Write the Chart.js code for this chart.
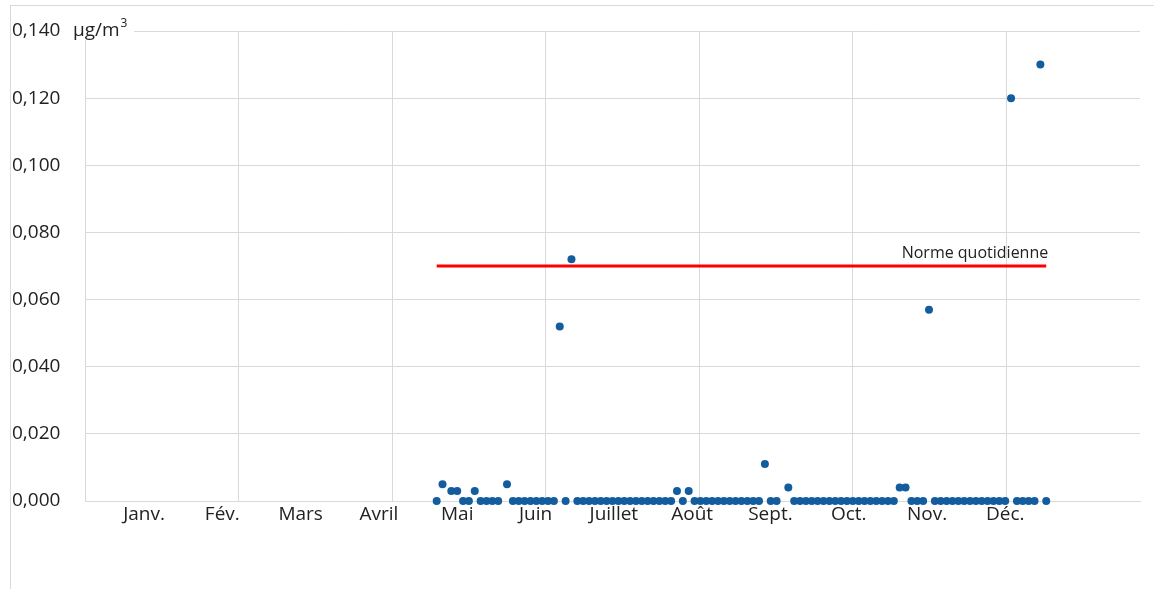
<!DOCTYPE html>
<html lang="fr">
<head>
<meta charset="utf-8">
<script src="https://cdn.jsdelivr.net/npm/chart.js@4/dist/chart.umd.min.js"></script>
<style>
    html, body { margin: 0; padding: 0; background: #fff; }
    #cadre {
        position: absolute; left: 10px; top: 5px; width: 1144px; height: 584px;
        border-top: 1px solid #d9d9d9; border-left: 1px solid #d9d9d9;
    }
    #zone { position: absolute; left: 0; top: 0; width: 1154px; height: 589px; }
</style>
</head>
<body>
<div id="cadre"></div>
<div id="zone"><canvas id="graphique"></canvas></div>
<script>
// Données
const mois = ['Janv.', 'Fév.', 'Mars', 'Avril', 'Mai', 'Juin', 'Juillet', 'Août', 'Sept.', 'Oct.', 'Nov.', 'Déc.'];

// jour de prélèvement (position sur l'axe) et concentration en µg/m3
const jours = [
    120, 122, 125, 127, 129, 131, 133, 135, 137, 139, 141, 144,
    146, 148, 150, 152, 154, 156, 158, 160,
    162, 164, 166, 168,
    170, 172, 174, 176, 178, 180, 182, 184, 186, 188, 190, 192, 194, 196, 198, 200,
    202, 204, 206,
    208, 210, 212, 214, 216, 218, 220, 222, 224, 226, 228, 230,
    232, 234, 236, 240,
    242, 244, 246, 248, 250, 252, 254, 256, 258, 260, 262, 264, 266, 268, 270, 272, 274, 276,
    278, 280, 282, 284, 286, 288,
    290, 292, 294, 296, 298, 300, 302, 304, 306, 308, 310, 312, 314,
    316, 318, 320, 322, 324, 326, 328
];
const valeurs = [
    0, 0.005, 0.003, 0.003, 0, 0, 0.003, 0, 0, 0, 0, 0.005,
    0, 0, 0, 0, 0, 0, 0, 0,
    0.052, 0, 0.072, 0,
    0, 0, 0, 0, 0, 0, 0, 0, 0, 0, 0, 0, 0, 0, 0, 0,
    0.003, 0, 0.003,
    0, 0, 0, 0, 0, 0, 0, 0, 0, 0, 0, 0,
    0.011, 0, 0, 0.004,
    0, 0, 0, 0, 0, 0, 0, 0, 0, 0, 0, 0, 0, 0, 0, 0, 0, 0,
    0.004, 0.004, 0, 0, 0, 0.057,
    0, 0, 0, 0, 0, 0, 0, 0, 0, 0, 0, 0, 0,
    0.120, 0, 0, 0, 0, 0.130, 0
];

const norme = 0.070;
const libelleNorme = 'Norme quotidienne';
const unite = 'µg/m';

const gris = '#d9d9d9';
const police = '"Open Sans", sans-serif';

// points du nuage
const points = jours.map((j, i) => ({ x: j, y: valeurs[i] }));
const ligneNorme = [
    { x: jours[0], y: norme },
    { x: jours[jours.length - 1], y: norme }
];

// unité en haut de l'axe + libellé de la norme
const textes = {
    id: 'textes',
    afterDraw(chart) {
        const ctx = chart.ctx;
        const y = chart.scales.y;
        const x = chart.scales.x;
        const yHaut = y.getPixelForValue(0.14);

        ctx.save();
        ctx.fillStyle = '#fff';
        ctx.fillRect(66, yHaut - 13, 68, 22);
        ctx.fillStyle = '#222';
        ctx.textBaseline = 'middle';
        ctx.textAlign = 'left';
        ctx.font = '19px ' + police;
        ctx.fillText(unite, 73, yHaut);
        const w = ctx.measureText(unite).width;
        ctx.font = '12px ' + police;
        ctx.fillText('3', 73 + w + 1, yHaut - 7);

        // libellé au bout de la ligne rouge
        ctx.font = '16px ' + police;
        ctx.textAlign = 'right';
        ctx.textBaseline = 'alphabetic';
        ctx.fillText(libelleNorme,
            x.getPixelForValue(jours[jours.length - 1]) + 2,
            y.getPixelForValue(norme) - 8);
        ctx.restore();
    }
};

const ctx = document.getElementById('graphique').getContext('2d');
new Chart(ctx, {
    type: 'scatter',
    data: {
        datasets: [
            {
                label: 'Concentration',
                data: points,
                backgroundColor: '#135c9e',
                borderWidth: 0,
                pointRadius: 4,
                pointHoverRadius: 4,
                clip: false,
                order: 1
            },
            {
                type: 'line',
                label: libelleNorme,
                data: ligneNorme,
                borderColor: '#ff0000',
                borderWidth: 3,
                pointRadius: 0,
                fill: false,
                order: 2
            }
        ]
    },
    options: {
        responsive: true,
        maintainAspectRatio: false,
        animation: false,
        events: [],
        layout: { padding: { top: 31, left: 12, right: 14, bottom: 58 } },
        plugins: {
            legend: { display: false },
            tooltip: { enabled: false }
        },
        scales: {
            x: {
                type: 'linear',
                min: 0,
                max: 360,
                afterBuildTicks: (scale) => {
                    // une grille verticale toutes les ~52,4 unités
                    const t = [];
                    for (let k = 0; k * 52.4 < 360; k++) t.push({ value: k * 52.4 });
                    scale.ticks = t;
                },
                afterFit: (scale) => { scale.height = 0; },
                ticks: { display: false },
                grid: { color: gris, drawTicks: false },
                border: { color: gris }
            },
            x2: {
                type: 'linear',
                position: 'bottom',
                min: -0.754,
                max: 12.72,
                afterBuildTicks: (scale) => {
                    scale.ticks = mois.map((m, i) => ({ value: i }));
                },
                afterFit: (scale) => { scale.height = 30; },
                ticks: {
                    color: '#222',
                    font: { family: police, size: 19 },
                    padding: 2,
                    maxRotation: 0,
                    autoSkip: false,
                    callback: (v) => mois[v]
                },
                grid: { display: false, drawTicks: false },
                border: { display: false }
            },
            y: {
                min: 0,
                max: 0.14,
                ticks: {
                    stepSize: 0.02,
                    crossAlign: 'far',
                    padding: 0,
                    color: '#222',
                    font: { family: police, size: 19 },
                    callback: (v) => v.toFixed(3).replace('.', ',')
                },
                afterFit: (scale) => { scale.width = 73; },
                grid: { color: gris, drawTicks: false },
                border: { color: gris }
            }
        }
    },
    plugins: [textes]
});
</script>
</body>
</html>
